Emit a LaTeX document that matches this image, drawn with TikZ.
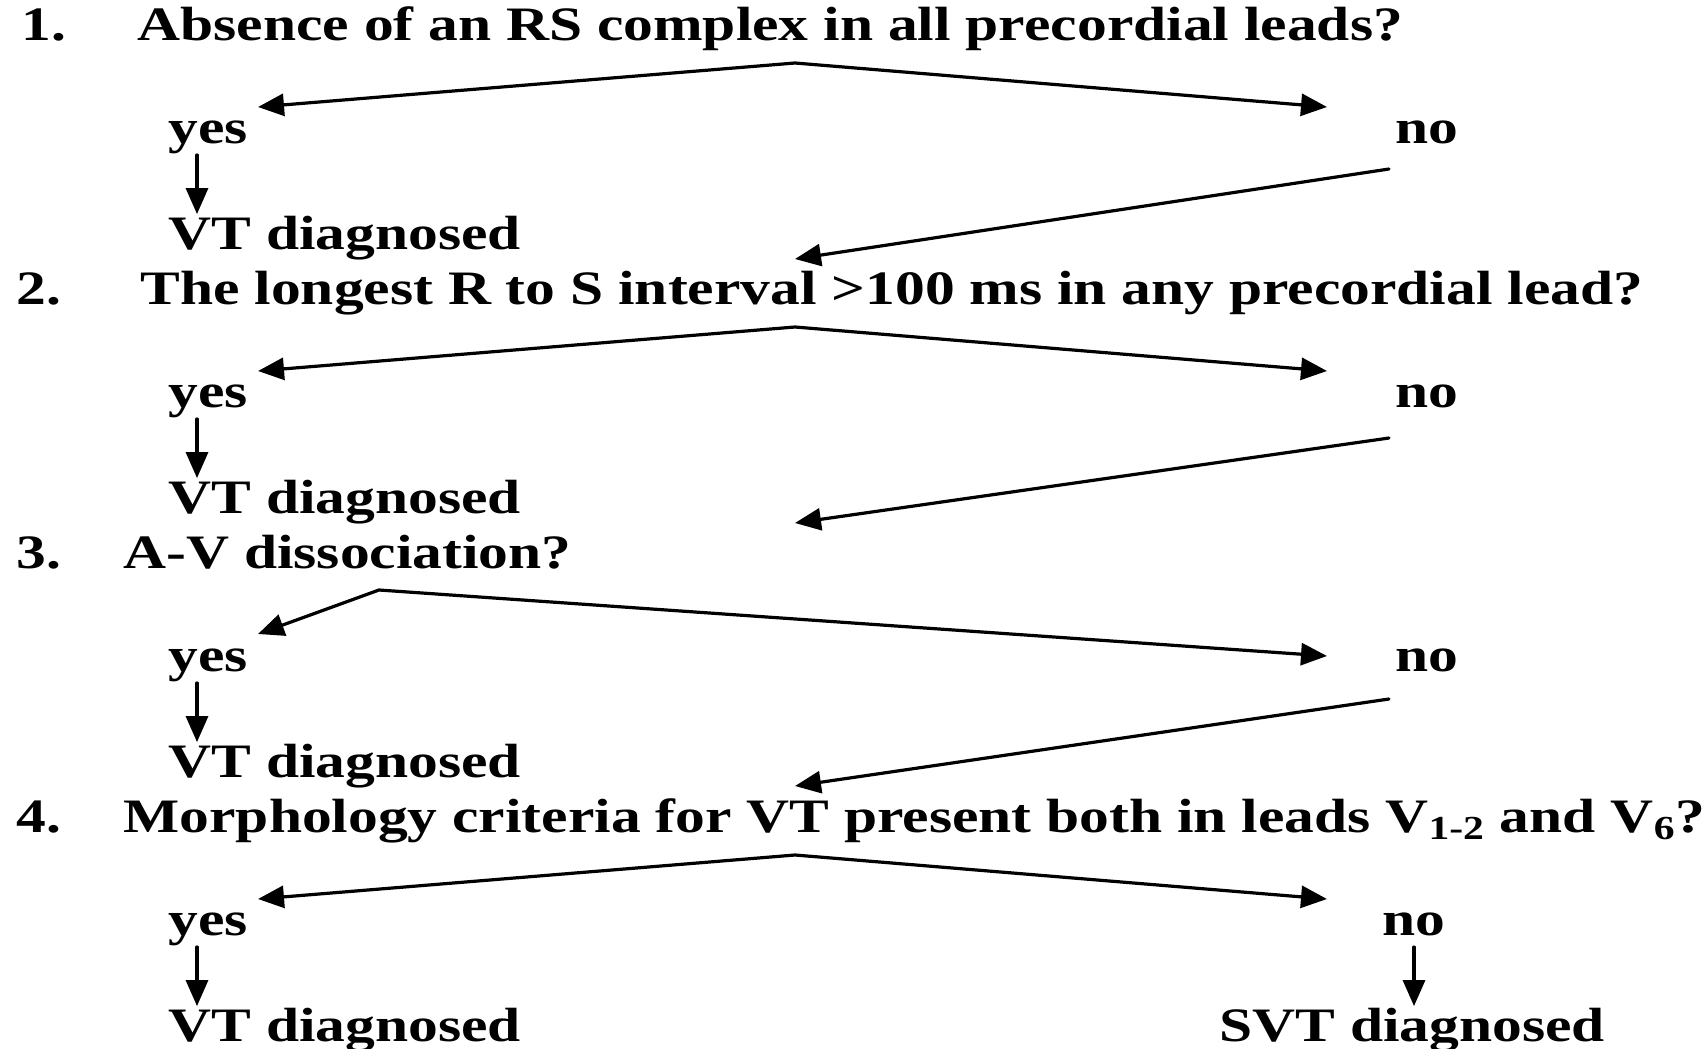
\documentclass[tikz,border=0pt]{standalone}
\usepackage{fontspec}
\setmainfont{Liberation Serif}[FakeStretch=1.24]
\usetikzlibrary{arrows.meta}
\begin{document}
\begin{tikzpicture}[x=0.5pt,y=-0.5pt,>={Triangle[length=13pt,width=11pt]}, line width=1.6pt, font=\fontsize{24}{28}\selectfont\bfseries, line join=round, line cap=round,
	txt/.style={anchor=base west, inner sep=0pt}]
	\useasboundingbox (0,0) rectangle (1708,1049);
	% questions
	\node[txt] (n1) at (20,40) {1.};
	\node[txt] (q1) at (136,40) {Absence of an RS complex in all precordial leads?};
	\node[txt] (n2) at (15,304) {2.};
	\node[txt] (q2) at (139,304) {The longest R to S interval >100 ms in any precordial lead?};
	\node[txt] (n3) at (15,568) {3.};
	\node[txt] (q3) at (122,568) {A-V dissociation?};
	\node[txt] (n4) at (15,832) {4.};
	\node[txt] (q4) at (122,832) {Morphology criteria for VT present both in leads V\textsubscript{1-2} and V\textsubscript{6}?};
	% answers
	\node[txt] (y1) at (167,143) {yes};
	\node[txt] (o1) at (1394,143) {no};
	\node[txt] (v1) at (167,249) {VT diagnosed};
	\node[txt] (y2) at (167,407) {yes};
	\node[txt] (o2) at (1394,407) {no};
	\node[txt] (v2) at (167,513) {VT diagnosed};
	\node[txt] (y3) at (167,671) {yes};
	\node[txt] (o3) at (1394,671) {no};
	\node[txt] (v3) at (167,777) {VT diagnosed};
	\node[txt] (y4) at (167,935) {yes};
	\node[txt] (o4) at (1381,935) {no};
	\node[txt] (v4) at (167,1041) {VT diagnosed};
	\node[txt] (w4) at (1218,1041) {SVT diagnosed};
	% branch points
	\coordinate (A1)at(795,63);   \coordinate (L1)at(258,107); \coordinate (R1)at(1327,107);
	\coordinate (A2)at(795,327);  \coordinate (L2)at(258,371); \coordinate (R2)at(1327,371);
	\coordinate (A3)at(379,590);  \coordinate (L3)at(258,634); \coordinate (R3)at(1327,656);
	\coordinate (A4)at(795,855);  \coordinate (L4)at(258,899); \coordinate (R4)at(1327,899);
	\coordinate (S1)at(1389,169); \coordinate (E1)at(795,259);
	\coordinate (S2)at(1389,438); \coordinate (E2)at(795,523);
	\coordinate (S3)at(1389,699); \coordinate (E3)at(795,786);
	\draw[<->] (L1)--(A1)--(R1);
	\draw[<->] (L2)--(A2)--(R2);
	\draw[<->] (L3)--(A3)--(R3);
	\draw[<->] (L4)--(A4)--(R4);
	\draw[->] (S1)--(E1);
	\draw[->] (S2)--(E2);
	\draw[->] (S3)--(E3);
	\draw[->] ([shift={(15pt,0pt)}]y1.south west)--([xshift=15pt]y1.south west |- v1.north);
	\draw[->] ([shift={(15pt,0pt)}]y2.south west)--([xshift=15pt]y2.south west |- v2.north);
	\draw[->] ([shift={(15pt,0pt)}]y3.south west)--([xshift=15pt]y3.south west |- v3.north);
	\draw[->] ([shift={(15pt,0pt)}]y4.south west)--([xshift=15pt]y4.south west |- v4.north);
	\draw[->] ([shift={(16.5pt,-5pt)}]o4.south west)--([xshift=16.5pt]o4.south west |- w4.north);
\end{tikzpicture}
\end{document}
